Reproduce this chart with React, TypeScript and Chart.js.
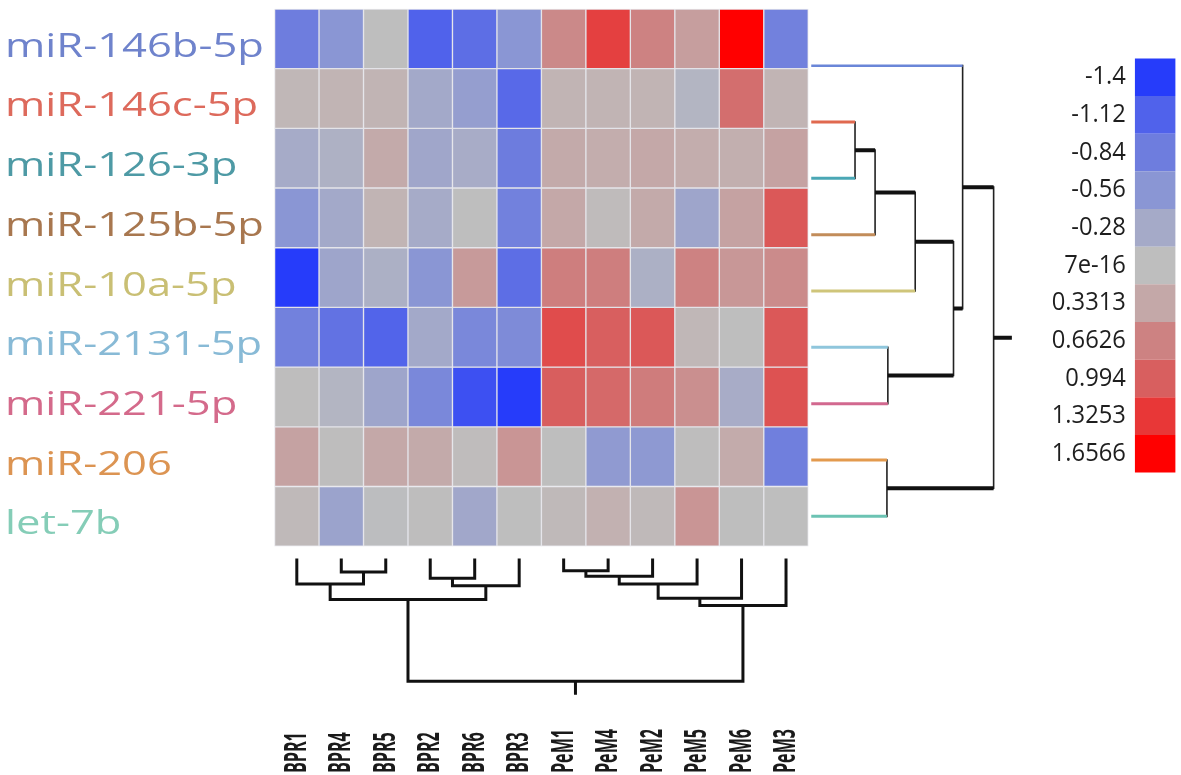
import React, { useEffect, useRef } from 'react';
import { Chart, registerables } from 'chart.js';

Chart.register(...registerables);

// ---------------- data ----------------
const rowLabels = ['miR-146b-5p', 'miR-146c-5p', 'miR-126-3p', 'miR-125b-5p', 'miR-10a-5p', 'miR-2131-5p', 'miR-221-5p', 'miR-206', 'let-7b'];
const colLabels = ['BPR1', 'BPR4', 'BPR5', 'BPR2', 'BPR6', 'BPR3', 'PeM1', 'PeM4', 'PeM2', 'PeM5', 'PeM6', 'PeM3'];

const v146b = [-0.84, -0.56, 0.0, -1.12, -1.0, -0.56, 0.6, 1.25, 0.66, 0.42, 1.66, -0.8];
const v146c = [0.1, 0.15, 0.15, -0.3, -0.45, -1.05, 0.15, 0.15, 0.15, -0.12, 0.85, 0.15];
const v126 = [-0.27, -0.18, 0.3, -0.33, -0.25, -0.85, 0.3, 0.25, 0.33, 0.25, 0.22, 0.38];
const v125b = [-0.56, -0.3, 0.15, -0.27, 0.0, -0.8, 0.33, 0.05, 0.3, -0.35, 0.38, 1.05];
const v10a = [-1.4, -0.35, -0.2, -0.56, 0.45, -1.0, 0.7, 0.7, -0.2, 0.66, 0.48, 0.58];
const v2131 = [-0.8, -0.95, -1.1, -0.3, -0.72, -0.68, 1.15, 0.99, 1.05, 0.1, 0.0, 1.05];
const v221 = [0.02, -0.12, -0.35, -0.72, -1.25, -1.4, 1.0, 0.9, 0.72, 0.55, -0.25, 1.1];
const v206 = [0.38, 0.02, 0.33, 0.3, 0.03, 0.5, 0.0, -0.5, -0.52, 0.02, 0.28, -0.82];
const vLet7b = [0.08, -0.38, -0.02, 0.02, -0.32, 0.0, 0.08, 0.2, 0.08, 0.5, 0.0, 0.0];
const rowValues = [v146b, v146c, v126, v125b, v10a, v2131, v221, v206, vLet7b];

const legendLabels = ['-1.4', '-1.12', '-0.84', '-0.56', '-0.28', '7e-16', '0.3313', '0.6626', '0.994', '1.3253', '1.6566'];
const legendStops = legendLabels.map(Number);

// row clustering: [childA, childB, height]; child >= 0 is a leaf (row index), child < 0 is merge (-child-1)
const rowMerges: [number, number, number][] = [
  [1, 2, 2.4],
  [-1, 3, 3.5],
  [-2, 4, 5.7],
  [5, 6, 4.2],
  [-3, -4, 7.8],
  [0, -5, 8.3],
  [7, 8, 4.15],
  [-6, -7, 10],
];
// column clustering
const colMerges: [number, number, number][] = [
  [1, 2, 0.99],
  [0, -1, 1.97],
  [3, 4, 1.5],
  [-3, 5, 2.11],
  [-2, -4, 3.26],
  [6, 7, 0.88],
  [-6, 8, 1.34],
  [-7, 9, 1.97],
  [-8, 10, 3.15],
  [-9, 11, 3.75],
  [-5, -10, 10],
];

// ---------------- styles ----------------
const legendColors = ['#263cfa', '#5062eb', '#6e7dde', '#8a96d4', '#a5aac8', '#bebebe', '#c4a8a8', '#cd8282', '#d85f5f', '#e83737', '#ff0000'];
const rowLabelColors = ['#6f83cc', '#dd6a5c', '#4e9aa5', '#a8774f', '#c9bf74', '#88bad6', '#d46a8b', '#dc9452', '#85cdb7'];
const rowBranchColors = ['#6a86d8', '#e0694f', '#4aa7b5', '#c28c5a', '#cfc57a', '#8fc6dc', '#d2688f', '#e39a4e', '#6cc3b3'];

const W = 1181;
const H = 775;
// linear mappings: value 0 at pixel p0, u pixels per unit
const fwd = (p0: number, u: number, L: number) => ({ min: -p0 / u, max: (L - p0) / u });
const up = (p0: number, u: number, L: number) => ({ min: -(L - p0) / u, max: p0 / u });

const xRange = fwd(273.5, 44.625, W); // heatmap columns
const yRange = up(547, 60, H); // heatmap rows
const ylRange = fwd(56.7, 37.85, H); // legend boxes (downwards)
const xdRange = fwd(812, 18.3, W); // row dendrogram height
const ydRange = up(517, 56.625, H); // row dendrogram leaves
const ycRange = fwd(561, 12.17, H); // column dendrogram height (downwards)
const LEGEND_X = 19.8;
const ROW_STUB = 1;
const COL_STUB = 1;

// ---------------- helpers ----------------
function hexToRgb(h: string) {
  const n = parseInt(h.slice(1), 16);
  return [(n >> 16) & 255, (n >> 8) & 255, n & 255];
}
function colorFor(v: number) {
  if (v <= legendStops[0]) return legendColors[0];
  for (let i = 0; i < legendStops.length - 1; i++) {
    if (v <= legendStops[i + 1]) {
      const t = (v - legendStops[i]) / (legendStops[i + 1] - legendStops[i]);
      const a = hexToRgb(legendColors[i]);
      const b = hexToRgb(legendColors[i + 1]);
      const c = a.map((x, k) => Math.round(x + (b[k] - x) * t));
      return `rgb(${c[0]},${c[1]},${c[2]})`;
    }
  }
  return legendColors[legendColors.length - 1];
}

function buildDendrogram(merges: [number, number, number][], leafPos: (k: number) => number, stub: number) {
  const pos: number[] = [];
  const hgt: number[] = [];
  const leafSegs: { leaf: number; p: number; h: number }[] = [];
  const branchSegs: { p: number; h0: number; h1: number }[] = [];
  const joinSegs: { h: number; p0: number; p1: number }[] = [];
  merges.forEach(([a, b, h], i) => {
    const ends = [a, b].map((c) => {
      if (c >= 0) {
        const p = leafPos(c);
        leafSegs.push({ leaf: c, p, h });
        return p;
      }
      const n = -c - 1;
      branchSegs.push({ p: pos[n], h0: hgt[n], h1: h });
      return pos[n];
    });
    joinSegs.push({ h, p0: ends[0], p1: ends[1] });
    pos[i] = (ends[0] + ends[1]) / 2;
    hgt[i] = h;
  });
  const root = merges.length - 1;
  branchSegs.push({ p: pos[root], h0: hgt[root], h1: hgt[root] + stub });
  return { leafSegs, branchSegs, joinSegs };
}

function polyline(segs: { x: number; y: number }[][]) {
  const out: any[] = [];
  segs.forEach((s, i) => {
    if (i) out.push({ x: null, y: null });
    out.push(...s);
  });
  return out;
}

const nRows = rowLabels.length;
const rowDendro = buildDendrogram(rowMerges, (k) => nRows - 1 - k, ROW_STUB);
const colDendro = buildDendrogram(colMerges, (k) => k + 0.5, COL_STUB);

const lineBase = { type: 'line', pointRadius: 0, fill: false, tension: 0, spanGaps: false };

const datasets: any[] = [
  ...rowValues.map((vals, r) => ({
    type: 'bar',
    label: rowLabels[r],
    xAxisID: 'x',
    yAxisID: 'y',
    data: vals.map((_, c) => ({ x: c + 0.5, y: [nRows - 1 - r, nRows - r] })),
    backgroundColor: vals.map(colorFor),
    borderColor: 'rgba(226,226,232,0.9)',
    borderWidth: 1,
    borderSkipped: false,
    grouped: false,
    barPercentage: 1,
    categoryPercentage: 1,
  })),
  {
    type: 'bar',
    label: 'legend',
    xAxisID: 'x',
    yAxisID: 'yl',
    data: legendLabels.map((_, k) => ({ x: LEGEND_X, y: [k, k + 1] })),
    backgroundColor: legendColors,
    borderWidth: 0,
    borderSkipped: false,
    grouped: false,
    barPercentage: 0.91,
    categoryPercentage: 1,
  },
  // row dendrogram: coloured leaf branches
  ...rowDendro.leafSegs.map((s) => ({
    ...lineBase,
    label: 'leaf ' + rowLabels[s.leaf],
    xAxisID: 'xd',
    yAxisID: 'yd',
    data: [{ x: 0, y: s.p }, { x: s.h, y: s.p }],
    borderColor: rowBranchColors[s.leaf],
    borderWidth: s.leaf === 0 ? 2.5 : 3,
    borderCapStyle: 'butt',
  })),
  {
    ...lineBase,
    label: 'row branches',
    xAxisID: 'xd',
    yAxisID: 'yd',
    data: polyline(rowDendro.branchSegs.map((s) => [{ x: s.h0, y: s.p }, { x: s.h1, y: s.p }])),
    borderColor: '#111',
    borderWidth: 4,
    borderCapStyle: 'butt',
  },
  {
    ...lineBase,
    label: 'row joins',
    xAxisID: 'xd',
    yAxisID: 'yd',
    data: polyline(rowDendro.joinSegs.map((s) => [{ x: s.h, y: s.p0 }, { x: s.h, y: s.p1 }])),
    borderColor: '#222',
    borderWidth: 1.6,
    borderCapStyle: 'square',
  },
  {
    ...lineBase,
    label: 'column dendrogram',
    xAxisID: 'x',
    yAxisID: 'yc',
    data: polyline([
      ...colDendro.leafSegs.map((s) => [{ x: s.p, y: 0 }, { x: s.p, y: s.h }]),
      ...colDendro.branchSegs.map((s) => [{ x: s.p, y: s.h0 }, { x: s.p, y: s.h1 }]),
      ...colDendro.joinSegs.map((s) => [{ x: s.p0, y: s.h }, { x: s.p1, y: s.h }]),
    ]),
    borderColor: '#111',
    borderWidth: 3,
    borderCapStyle: 'square',
  },
];

const hidden = (r: { min: number; max: number }, reverse = false) => ({
  type: 'linear',
  display: false,
  offset: false,
  min: r.min,
  max: r.max,
  reverse,
  ticks: { count: 2 },
  grid: { display: false },
});

const textPlugin = {
  id: 'heatmapTexts',
  afterDatasetsDraw(chart: any) {
    const ctx = chart.ctx as CanvasRenderingContext2D;
    const x = chart.scales.x;
    const y = chart.scales.y;
    const yl = chart.scales.yl;
    ctx.save();
    // row labels
    ctx.font = '32px "Open Sans"';
    ctx.textAlign = 'left';
    ctx.textBaseline = 'alphabetic';
    rowLabels.forEach((lab, r) => {
      const py = y.getPixelForValue(nRows - r - 0.5) + 18;
      ctx.save();
      ctx.translate(5, py);
      ctx.scale(1.36, 1);
      ctx.fillStyle = rowLabelColors[r];
      ctx.fillText(lab, 0, 0);
      ctx.restore();
    });
    // column labels (rotated)
    ctx.font = 'bold 31px "Open Sans"';
    ctx.fillStyle = '#1a1a1a';
    colLabels.forEach((lab, c) => {
      const px = x.getPixelForValue(c + 0.5);
      ctx.save();
      ctx.translate(px + 9, 773);
      ctx.rotate(-Math.PI / 2);
      ctx.scale(0.52, 1);
      ctx.fillText(lab, 0, 0);
      ctx.restore();
    });
    // legend labels
    const legendMeta = chart.getDatasetMeta(rowValues.length);
    ctx.font = '25px "Open Sans"';
    ctx.textAlign = 'right';
    ctx.textBaseline = 'middle';
    ctx.fillStyle = '#1e1e1e';
    legendLabels.forEach((lab, k) => {
      const el = legendMeta.data[k];
      const left = el ? el.x - el.width / 2 : x.getPixelForValue(LEGEND_X) - 20;
      ctx.save();
      ctx.translate(left - 9, yl.getPixelForValue(k + 0.5));
      ctx.scale(0.95, 1);
      ctx.fillText(lab, 0, 0);
      ctx.restore();
    });
    ctx.restore();
  },
};

export default function App() {
  const ref = useRef<HTMLCanvasElement>(null);
  useEffect(() => {
    if (!ref.current) return;
    const chart = new Chart(ref.current, {
      type: 'bar',
      data: { datasets },
      options: {
        responsive: false,
        animation: false,
        devicePixelRatio: 1,
        events: [],
        layout: { padding: 0 },
        plugins: { legend: { display: false }, tooltip: { enabled: false } },
        scales: {
          x: hidden(xRange),
          y: hidden(yRange),
          yl: hidden(ylRange, true),
          xd: hidden(xdRange),
          yd: hidden(ydRange),
          yc: hidden(ycRange, true),
        },
      } as any,
      plugins: [textPlugin],
    } as any);
    let alive = true;
    const fonts = (document as any).fonts;
    if (fonts && fonts.load) {
      Promise.all([fonts.load('32px "Open Sans"'), fonts.load('bold 31px "Open Sans"')]).then(() => {
        if (alive) chart.update();
      });
    }
    return () => {
      alive = false;
      chart.destroy();
    };
  }, []);
  return (
    <div style={{ position: 'fixed', left: 0, top: 0, width: W, height: H, background: '#fff' }}>
      <canvas ref={ref} width={W} height={H} style={{ display: 'block', width: W, height: H }} />
    </div>
  );
}
